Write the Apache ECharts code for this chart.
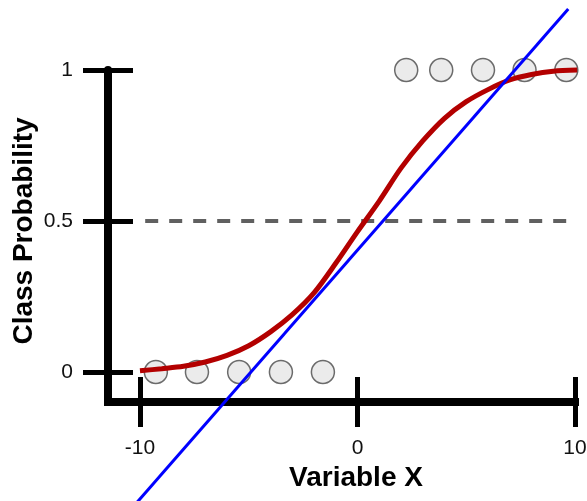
<!DOCTYPE html>
<html>
<head>
<meta charset="utf-8">
<script src="https://cdn.jsdelivr.net/npm/echarts@6/dist/echarts.min.js"></script>
<style>html,body{margin:0;padding:0;background:#fff}#c{width:587px;height:501px}</style>
</head>
<body>
<div id="c"></div>
<script>
// ---- data ----
var xTicks = [-10, 0, 10];
var yTicks = [0, 0.5, 1];
var class0X = [-9.27, -7.38, -5.44, -3.52, -1.59];
var class0Y = [0, 0, 0, 0, 0];
var class1X = [2.24, 3.85, 5.77, 7.68, 9.6];
var class1Y = [1, 1, 1, 1, 1];
var logisticX = [-10, -9, -8, -7, -6, -5, -4, -3, -2, -1, 0, 1, 2, 3, 4, 5, 6, 7, 8, 9, 10.1];
var logisticY = [0.004, 0.011, 0.019, 0.033, 0.055, 0.087, 0.133, 0.19, 0.262, 0.36, 0.465, 0.566, 0.675, 0.765, 0.84, 0.895, 0.935, 0.967, 0.985, 0.996, 1.0];
var linearX = [-10.3, 9.69];
var linearY = [-0.445, 1.202];
var thresholdX = [-9.76, 10.6];
var thresholdY = [0.5, 0.5];

function zip(a, b) { return a.map(function (v, i) { return [v, b[i]]; }); }

var FONT = 'Liberation Sans';
var xMin = -11.47, xMax = 10, yMin = -0.0993, yMax = 1;
var gridBox = { left: 108, right: 12, top: 70, bottom: 99, containLabel: false, outerBoundsMode: 'none' };

var chart = echarts.init(document.getElementById('c'), null, { renderer: 'canvas' });
chart.setOption({
  animation: false,
  backgroundColor: '#fff',
  grid: [Object.assign({}, gridBox), Object.assign({}, gridBox)],
  xAxis: [{
    type: 'value', gridIndex: 0, min: xMin, max: xMax, position: 'bottom',
    splitLine: { show: false },
    axisLine: { show: true, onZero: false, lineStyle: { color: '#000', width: 8, cap: 'square' } },
    axisTick: { show: true, inside: false, length: 25, customValues: xTicks, lineStyle: { color: '#000', width: 5 } },
    axisLabel: { show: true, customValues: xTicks, margin: 36, color: '#111', fontFamily: FONT, fontSize: 21 },
    name: 'Variable X', nameLocation: 'middle', nameGap: 62, nameMoveOverlap: false,
    nameTextStyle: { fontFamily: FONT, fontSize: 28, fontWeight: 'bold', color: '#000', padding: [0, 0, 0, 29] }
  }, {
    type: 'value', gridIndex: 1, min: xMin, max: xMax, position: 'bottom',
    splitLine: { show: false },
    axisLine: { show: false, onZero: false },
    axisTick: { show: true, inside: true, length: 25, customValues: xTicks, lineStyle: { color: '#000', width: 5 } },
    axisLabel: { show: false }
  }],
  yAxis: [{
    type: 'value', gridIndex: 0, min: yMin, max: yMax, position: 'left',
    splitLine: { show: false },
    axisLine: { show: true, onZero: false, lineStyle: { color: '#000', width: 8 } },
    axisTick: { show: true, inside: false, length: 25, customValues: yTicks, lineStyle: { color: '#000', width: 5 } },
    axisLabel: { show: true, customValues: yTicks, margin: 35, color: '#111', fontFamily: FONT, fontSize: 21 },
    name: 'Class Probability', nameLocation: 'middle', nameGap: 70, nameRotate: 90, nameMoveOverlap: false,
    nameTextStyle: { fontFamily: FONT, fontSize: 28, fontWeight: 'bold', color: '#000', padding: [0, 0, 0, 10] }
  }, {
    type: 'value', gridIndex: 1, min: yMin, max: yMax, position: 'left',
    splitLine: { show: false },
    axisLine: { show: false, onZero: false },
    axisTick: { show: true, inside: true, length: 25, customValues: yTicks, lineStyle: { color: '#000', width: 5 } },
    axisLabel: { show: false }
  }],
  series: [
    {
      type: 'scatter', xAxisIndex: 0, yAxisIndex: 0, z: 2,
      data: zip(class0X, class0Y).concat(zip(class1X, class1Y)),
      symbol: 'circle', symbolSize: 23,
      itemStyle: { color: '#ebebeb', borderColor: '#6b6b6b', borderWidth: 1.5, opacity: 1 }
    },
    {
      type: 'line', xAxisIndex: 0, yAxisIndex: 0, z: 3, clip: false,
      data: zip(thresholdX, thresholdY), showSymbol: false, symbol: 'none',
      lineStyle: { color: '#606060', width: 4, type: [13, 11] }
    },
    {
      type: 'line', xAxisIndex: 0, yAxisIndex: 0, z: 4, clip: false,
      data: zip(logisticX, logisticY), smooth: 0.3, showSymbol: false, symbol: 'none',
      lineStyle: { color: '#b30000', width: 5 }
    },
    {
      type: 'line', xAxisIndex: 0, yAxisIndex: 0, z: 5, clip: false,
      data: zip(linearX, linearY), showSymbol: false, symbol: 'none',
      lineStyle: { color: '#0000ff', width: 3 }
    }
  ]
});
</script>
</body>
</html>
